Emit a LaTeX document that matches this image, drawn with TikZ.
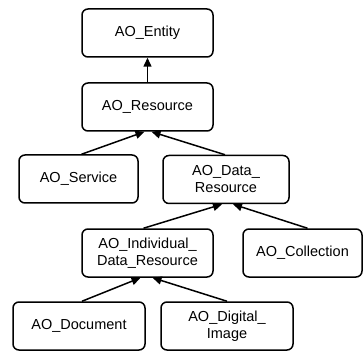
\documentclass[tikz,border=0pt]{standalone}
\usepackage{fontspec}
\setmainfont{Liberation Sans}
\usetikzlibrary{arrows.meta}
\begin{document}
\begin{tikzpicture}[x=1pt,y=-1pt,
  cls/.style={draw, line width=1.5pt, rounded corners=6pt, minimum height=48pt, align=center,
    font=\fontsize{14.5}{17}\selectfont, inner sep=0pt},
  isa/.style={line width=1.5pt, -{Triangle[length=9pt,width=8pt]}}]
\useasboundingbox (0,0) rectangle (363,352);
\node[cls, minimum width=131pt] (ent) at (147.5,33) {AO\_Entity};
\node[cls, minimum width=131pt] (res) at (147.5,107) {AO\_Resource};
\node[cls, minimum width=119pt] (svc) at (78.5,179) {AO\_Service};
\node[cls, minimum width=126pt] (dat) at (226,179.5) {AO\_Data\_\\Resource};
\node[cls, minimum width=131pt] (ind) at (147.5,253) {AO\_Individual\_\\Data\_Resource};
\node[cls, minimum width=119pt] (col) at (302.5,253) {AO\_Collection};
\node[cls, minimum width=132pt] (doc) at (79,326) {AO\_Document};
\node[cls, minimum width=132pt] (img) at (227,326) {AO\_Digital\_\\Image};
\draw[isa] (res.north) -- (ent.south);
\draw[isa] ([xshift=3pt]svc.north) -- ([xshift=-3pt]res.south);
\draw[isa] ([xshift=-1pt]dat.north) -- ([xshift=4pt]res.south);
\draw[isa] ([xshift=-4pt]ind.north) -- ([xshift=-4pt]dat.south);
\draw[isa] ([xshift=5pt]col.north) -- ([xshift=7pt]dat.south);
\draw[isa] ([xshift=3pt]doc.north) -- ([xshift=-7pt]ind.south);
\draw[isa] ([xshift=0pt]img.north) -- ([xshift=5pt]ind.south);
\end{tikzpicture}
\end{document}
